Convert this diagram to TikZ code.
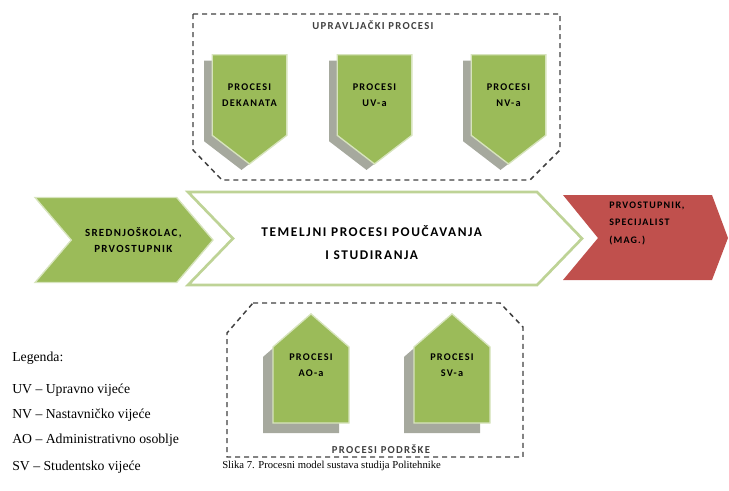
\documentclass[tikz,border=0pt]{standalone}
\usepackage{fontspec}
\setmainfont{Carlito}
\newfontfamily\boxfont[LetterSpace=12]{Carlito}
\newfontfamily\legfont{Liberation Serif}
\usepackage{tikz}
\usetikzlibrary{shapes.symbols,shadows}
\definecolor{procgreen}{RGB}{155,187,89}
\definecolor{procglow}{RGB}{215,228,189}
\definecolor{procframe}{RGB}{190,211,150}
\definecolor{procshade}{RGB}{166,169,158}
\definecolor{procred}{RGB}{192,80,77}
\definecolor{dashgray}{RGB}{64,64,64}
\tikzstyle{upbox} = [signal, signal to=south, signal pointer angle=105, fill=procgreen, draw=procglow, line width=1pt, minimum width=56pt, minimum height=63pt, drop shadow={shadow xshift=-6pt, shadow yshift=-4.5pt, fill=procshade, opacity=1}]
\tikzstyle{downbox} = [signal, signal to=north, signal pointer angle=98, fill=procgreen, draw=procglow, line width=1pt, minimum width=57pt, minimum height=60pt, drop shadow={shadow xshift=-7.5pt, shadow yshift=-7.5pt, fill=procshade, opacity=1}]
\tikzstyle{boxtext} = [align=center, inner sep=0pt, font=\boxfont\bfseries\fontsize{7.7}{12}\selectfont]
\tikzstyle{labeltext} = [inner sep=0pt, text=dashgray, font=\boxfont\bfseries\fontsize{8}{9}\selectfont]
\tikzstyle{legtext} = [anchor=west, inner sep=0pt, font=\legfont\fontsize{10.3}{12}\selectfont]
\tikzstyle{dashframe} = [dashgray, line width=1.1pt, dash pattern=on 3.75pt off 3pt]

\begin{document}
\begin{tikzpicture}[x=0.75pt, y=-0.75pt]
    \useasboundingbox (0,0) rectangle (729,490);

    % upravljacki procesi
    \draw [dashframe] (193,14) -- (560,14) -- (560,150) -- (530,180) -- (222,180) -- (193,150) -- cycle;
    \node (upr_label) [labeltext] at (373,25) {UPRAVLJAČKI PROCESI};
    \node (dek) [upbox] at (249.5,95) {};
    \node (uv) [upbox] at (374.5,95) {};
    \node (nv) [upbox] at (508.5,95) {};
    \node (dek_text) [boxtext, at={(dek.center)}] {PROCESI\\DEKANATA};
    \node (uv_text) [boxtext, at={(uv.center)}] {PROCESI\\UV-a};
    \node (nv_text) [boxtext, at={(nv.center)}] {PROCESI\\NV-a};

    % temeljni procesi
    \node (ulaz) [signal, signal from=west, signal to=east, signal pointer angle=99, fill=procgreen, draw=procglow, line width=1pt, minimum width=133.5pt, minimum height=63.75pt] at (124,240) {};
    \node (temelj) [signal, signal from=west, signal to=east, signal pointer angle=92, fill=white, draw=procframe, line width=2pt, minimum width=295.5pt, minimum height=69.75pt] at (385,238.5) {};
    \fill [procred] (563,195) -- (712,195) -- (728,238) -- (712,280) -- (563,280) -- (598,238) -- cycle;
    \coordinate (izlaz) at (645,238);

    \node (ulaz_text) [boxtext, font=\boxfont\bfseries\fontsize{8.2}{12.5}\selectfont, at={(ulaz.center)}, xshift=7pt] {SREDNJOŠKOLAC,\\PRVOSTUPNIK};
    \node (temelj_text) [boxtext, font=\boxfont\bfseries\fontsize{10}{17}\selectfont, at={(temelj.center)}, xshift=-10pt, yshift=-3pt] {TEMELJNI PROCESI POUČAVANJA\\I STUDIRANJA};
    \node (izlaz_text) [boxtext, align=left, anchor=west, at={(izlaz)}, xshift=-27pt, yshift=11pt, font=\boxfont\bfseries\fontsize{7.5}{13}\selectfont] {PRVOSTUPNIK,\\SPECIJALIST\\(MAG.)};

    % procesi podrske
    \draw [dashframe] (253,303) -- (500,303) -- (523,327) -- (523,457) -- (227,457) -- (227,333) -- cycle;
    \node (pod_label) [labeltext] at (381,449) {PROCESI PODRŠKE};
    \node (ao) [downbox] at (311,385) {};
    \node (sv) [downbox] at (452,385) {};
    \node (ao_text) [boxtext, at={(ao.center)}, yshift=15pt] {PROCESI\\AO-a};
    \node (sv_text) [boxtext, at={(sv.center)}, yshift=15pt] {PROCESI\\SV-a};

    % legenda
    \node (leg) [legtext] at (12,358) {Legenda:};
    \node (leg_uv) [legtext] at (12,390) {UV – Upravno vijeće};
    \node (leg_nv) [legtext] at (12,415) {NV – Nastavničko vijeće};
    \node (leg_ao) [legtext] at (12,440) {AO – Administrativno osoblje};
    \node (leg_sv) [legtext] at (12,467) {SV – Studentsko vijeće};
    \node (caption) [legtext, font=\legfont\fontsize{8}{9.5}\selectfont] at (222,466) {Slika 7. Procesni model sustava studija Politehnike};
\end{tikzpicture}
\end{document}
